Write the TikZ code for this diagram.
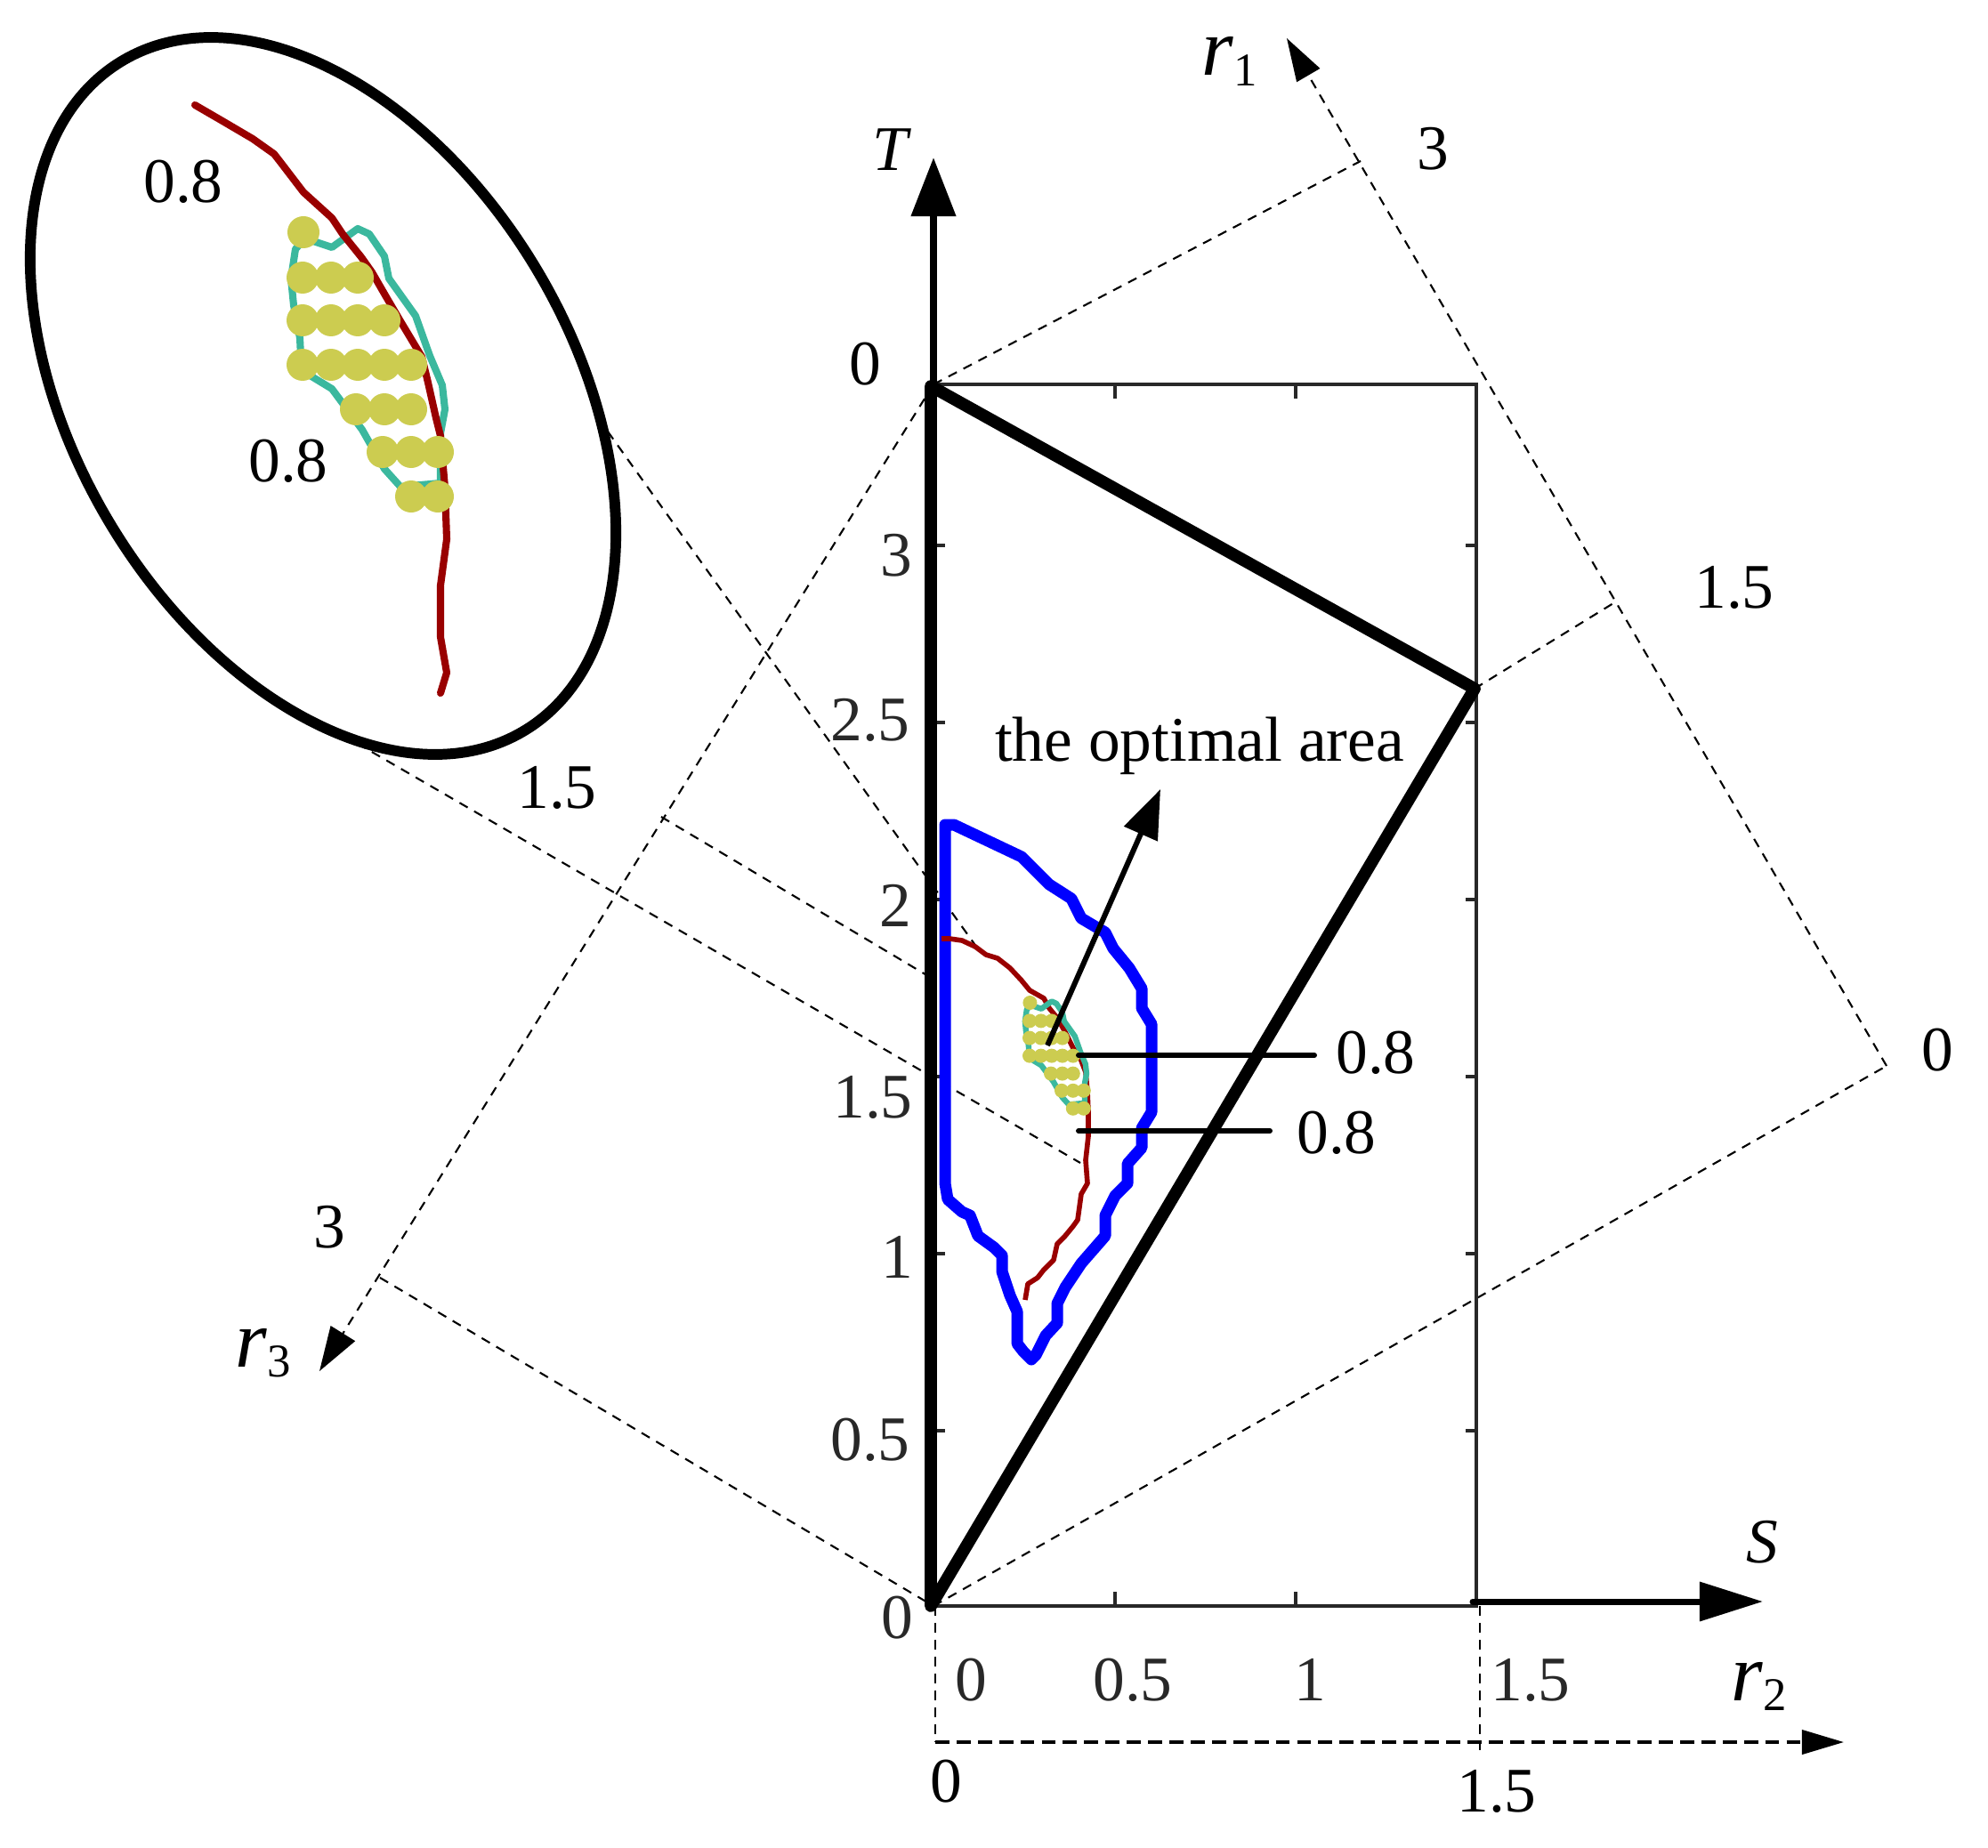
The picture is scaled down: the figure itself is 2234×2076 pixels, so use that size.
\documentclass[tikz,border=0pt]{standalone}
\usepackage{fontspec}
\setmainfont{Liberation Serif}
\usetikzlibrary{arrows.meta}
\usepackage{xcolor}
\definecolor{darkred}{RGB}{153,0,0}
\definecolor{tealline}{RGB}{59,184,158}
\definecolor{dotyellow}{RGB}{204,204,80}
\definecolor{axgray}{RGB}{40,40,40}
\tikzset{
	lbl/.style={font=\fontsize{20.3}{24}\selectfont, inner sep=0pt},
	dashline/.style={line width=0.6pt, dash pattern=on 3pt off 2.4pt},
	tick/.style={axgray, line width=1.1pt},
}
\newcommand{\rlab}[1]{{\fontsize{26}{26}\selectfont\itshape r}\raisebox{-3.4pt}{\fontsize{15}{15}\selectfont #1}}
\newcommand{\tealarea}[1]{\draw[tealline, line width=#1, line join=round] (343,268) -- (373,278) -- (402,257) -- (415,263) -- (432,288) -- (437,313) -- (467,355) -- (483,400) -- (497,433) -- (500,460) -- (495,487) -- (495,543) -- (450,547) -- (432,527) -- (407,483) -- (373,437) -- (350,423) -- (338,400) -- (337,380) -- (330,343) -- (327,313) -- (332,280) -- cycle;}
\newcommand{\optdots}[1]{\foreach \x/\y in {341/261, 340/312,372/312,402/312, 340/360,372/360,402/360,432/360, 340/410,372/410,402/410,432/410,462/410, 400/460,432/460,462/460, 430/508,462/508,492/508, 462/558,492/558}
	\fill[dotyellow] (\x,\y) circle (#1);}

\begin{document}
\begin{tikzpicture}[x=0.01cm,y=-0.01cm]
			\useasboundingbox (0,0) rectangle (2234,2076);
			% points of the axes
			\coordinate (O) at (1049,1805);
			\coordinate (A) at (1049,432);
			\coordinate (B) at (1657,774);
			\coordinate (Tt) at (1049,177);
			\coordinate (Rz) at (2120,1198);
			\coordinate (Rb) at (1813,678);
			\coordinate (Rc) at (1529,181);
			\coordinate (Re) at (1446,43);
			\coordinate (Qb) at (743,918);
			\coordinate (Qc) at (427,1436);
			\coordinate (Qe) at (359,1541);
			\coordinate (Qm) at (1043,1097);
			\coordinate (Ea) at (385,826);
			\coordinate (Eb) at (683,485);
			\coordinate (Fa) at (1214,1307);
			\coordinate (Fb) at (1100,1068);
			\coordinate (Oa) at (1051,1805);
			\coordinate (Ob) at (1051,1958);
			\coordinate (Rt) at (2072,1958);
			\coordinate (Sa) at (1663,1805);
			\coordinate (Sb) at (1663,1970);
			% dashed r axes
			\draw[dashline, -{Triangle[length=13.7pt,width=8.5pt]}] (Rz) -- (Re);
			\draw[dashline] (A) -- (Rc);
			\draw[dashline] (B) -- (Rb);
			\draw[dashline] (O) -- (Rz);
			\draw[dashline, -{Triangle[length=14.2pt,width=9.1pt]}] (A) -- (Qe);
			\draw[dashline] (Qb) -- (Qm);
			\draw[dashline] (Qc) -- (O);
			\draw[dashline] (Ea) -- (Fa);
			\draw[dashline] (Eb) -- (Fb);
			\draw[dashline] (Oa) -- (Ob);
			\draw[dashline] (Sa) -- (Sb);
			\draw[line width=1.1pt, dash pattern=on 4.5pt off 2.3pt, -{Triangle[length=13.4pt,width=7.7pt]}] (Ob) -- (Rt);
			% frame and ticks
			\draw[tick] (1050,432) rectangle (1659,1805);
			\foreach \y in {613,812,1011,1210,1409,1608} {
				\draw[tick] (1050,\y) -- +(12,0);
				\draw[tick] (1659,\y) -- +(-12,0);
			}
			\foreach \x in {1253,1456} {
				\draw[tick] (\x,432) -- +(0,16);
				\draw[tick] (\x,1805) -- +(0,-16);
			}
			\draw[line width=2.3pt, -{Triangle[length=18.8pt,width=13.9pt]}] (A) -- (Tt);
			\draw[line width=2pt, line cap=round, -{Triangle[length=20.2pt,width=12.2pt]}] (1655,1800) -- (1981,1800);
			\draw[line width=3.9pt, line join=round] (1046,1805) -- (1046,434) -- (B) -- cycle;
			% contours
			\draw[blue, line width=3.7pt, line join=round] (1062,927) -- (1072,927) -- (1148,963) -- (1179,994) -- (1204,1010) -- (1215,1032) -- (1242,1048) -- (1251,1066) -- (1269,1088) -- (1283,1111) -- (1283,1133) -- (1294,1151) -- (1294,1250) -- (1283,1268) -- (1283,1290) -- (1267,1308) -- (1267,1330) -- (1253,1344) -- (1242,1366) -- (1242,1389) -- (1215,1420) -- (1197,1447) -- (1188,1465) -- (1188,1487) -- (1175,1501) -- (1164,1523) -- (1159,1528) -- (1150,1519) -- (1143,1510) -- (1143,1474) -- (1135,1456) -- (1126,1429) -- (1126,1411) -- (1117,1402) -- (1099,1389) -- (1090,1366) -- (1081,1362) -- (1065,1348) -- (1062,1330) -- cycle;
			\draw[darkred, line width=1.6pt, line join=round] (1058,1055) -- (1067,1055) -- (1081,1057) -- (1096,1064) -- (1108,1073) -- (1121,1077) -- (1135,1088) -- (1148,1102) -- (1157,1113) -- (1173,1122) -- (1179,1133) -- (1188,1144) -- (1197,1160) -- (1206,1178) -- (1213,1187) -- (1220,1205) -- (1222,1227) -- (1223,1250) -- (1223,1277) -- (1220,1304) -- (1222,1330) -- (1215,1342) -- (1211,1371) -- (1206,1378) -- (1197,1389) -- (1188,1398) -- (1184,1416) -- (1173,1427) -- (1166,1436) -- (1155,1443) -- (1152,1461);
			\begin{scope}[shift={(1157,1127)}, scale=0.4, shift={(-340,-261)}]
				\tealarea{1.8pt}
				\optdots{20}
			\end{scope}
			% magnified view
			\draw[line width=3.4pt, rotate around={-59:(363,445)}] (363,445) ellipse [x radius=439, y radius=279];
			\tealarea{2.3pt}
			\draw[darkred, line width=2.3pt, line join=round, line cap=round] (219,118) -- (250,136) -- (284,156) -- (308,173) -- (315,182) -- (341,216) -- (373,245) -- (385,263) -- (406,289) -- (418,306) -- (433,332) -- (450,361) -- (474,401) -- (481,430) -- (490,470) -- (495,490) -- (500,548) -- (502,606) -- (495,658) -- (495,716) -- (502,756) -- (495,779);
			\optdots{18}
			% optimal area
			\node[lbl, anchor=base] (opt) at (1348,855) {the optimal area};
			\coordinate (oa) at (1177,1175);
			\coordinate (ob) at (1304,887);
			\draw[line width=1.7pt, -{Triangle[length=15.6pt,width=11.4pt]}] (oa) -- (ob);
			\coordinate (ma) at (1212,1186);
			\coordinate (mb) at (1477,1186);
			\coordinate (na) at (1212,1271);
			\coordinate (nb) at (1427,1271);
			\draw[line width=1.7pt, line cap=round] (ma) -- (mb);
			\draw[line width=1.7pt, line cap=round] (na) -- (nb);
			\node[lbl] (va) at (1546,1183) {0.8};
			\node[lbl] (vb) at (1502,1273) {0.8};
			\node[lbl] (ia) at (206,204) {0.8};
			\node[lbl] (ib) at (324,518) {0.8};
			% axis labels
			\node[lbl] (T) at (1000,168) {\itshape T};
			\node[lbl] (S) at (1980,1733) {\itshape S};
			\node[inner sep=0pt, anchor=base west] (r1) at (1350,85) {\rlab{1}};
			\node[inner sep=0pt, anchor=base west] (r2) at (1945,1911) {\rlab{2}};
			\node[inner sep=0pt, anchor=base west] (r3) at (264,1536) {\rlab{3}};
			\node[lbl] (za) at (972,409) {0};
			\node[lbl, axgray] (ya) at (1007,624) {3};
			\node[lbl, axgray] (yb) at (978,809) {2.5};
			\node[lbl, axgray] (yc) at (1006,1018) {2};
			\node[lbl, axgray] (yd) at (981,1233) {1.5};
			\node[lbl, axgray] (ye) at (1008,1413) {1};
			\node[lbl, axgray] (yf) at (978,1618) {0.5};
			\node[lbl, axgray] (yg) at (1008,1818) {0};
			\node[lbl, axgray] (xa) at (1091,1888) {0};
			\node[lbl, axgray] (xb) at (1273,1888) {0.5};
			\node[lbl, axgray] (xc) at (1472,1888) {1};
			\node[lbl, axgray] (xd) at (1720,1888) {1.5};
			\node[lbl] (qa) at (1063,2002) {0};
			\node[lbl] (qb) at (1682,2013) {1.5};
			\node[lbl] (pa) at (1610,167) {3};
			\node[lbl] (pb) at (1949,660) {1.5};
			\node[lbl] (pc) at (2177,1180) {0};
			\node[lbl] (sa) at (626,885) {1.5};
			\node[lbl] (sb) at (370,1379) {3};
\end{tikzpicture}
\end{document}
